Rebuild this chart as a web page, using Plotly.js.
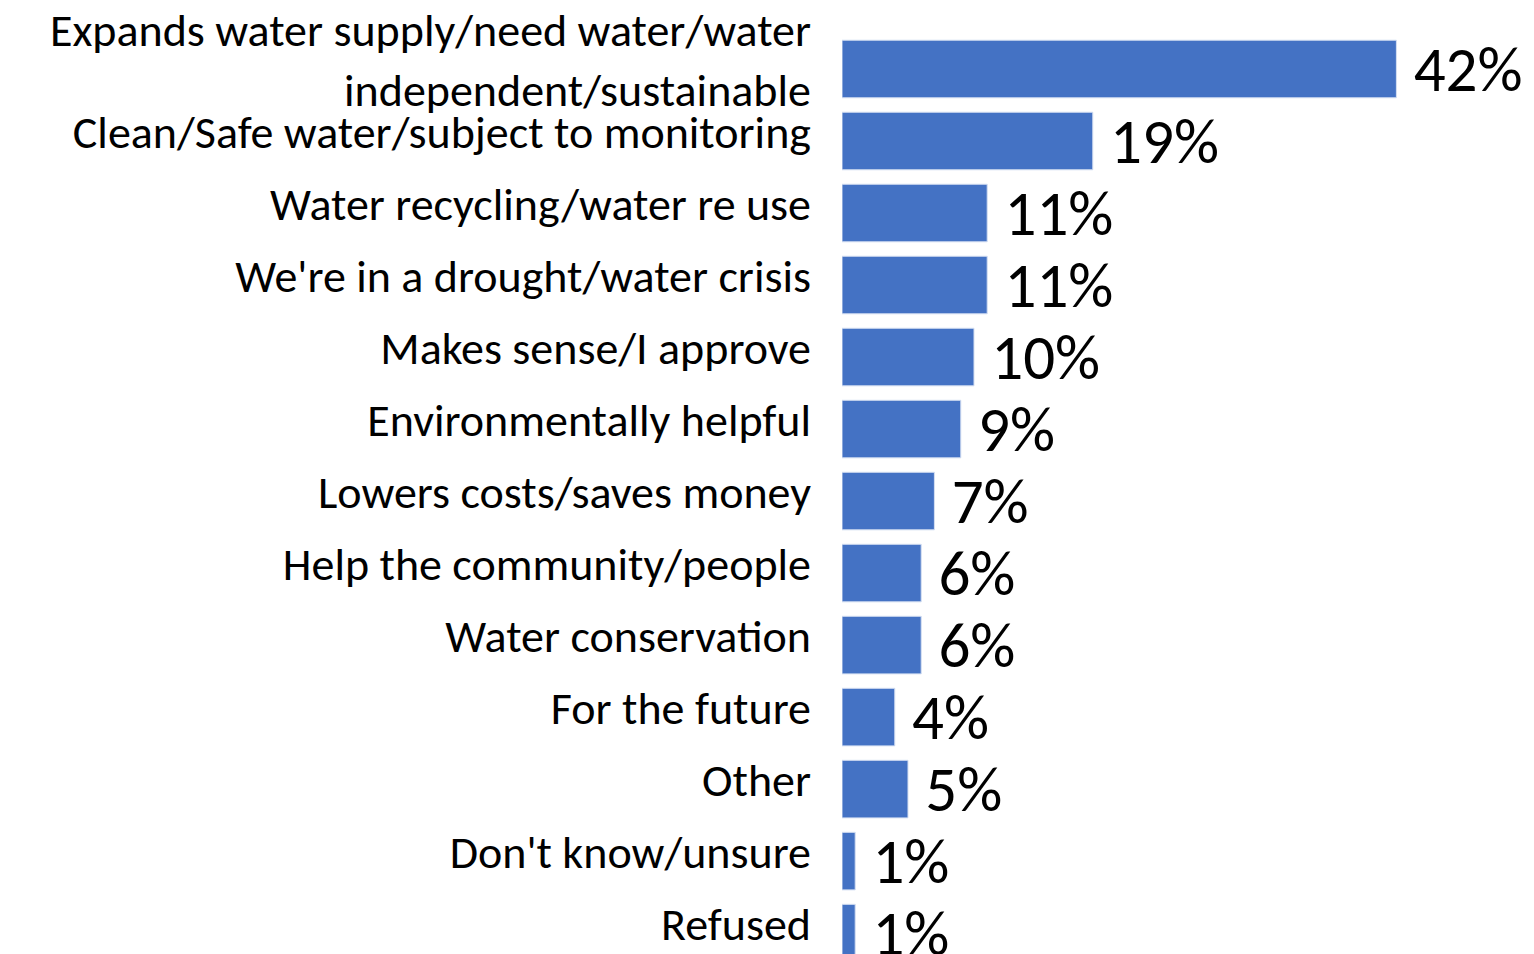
<!DOCTYPE html>
<html>
<head>
<meta charset="utf-8">
<script src="https://cdn.plot.ly/plotly-3.0.1.min.js"></script>
<style>
html,body{margin:0;padding:0;background:#fff;}
#chart{width:1534px;height:954px;}
</style>
</head>
<body>
<div id="chart"></div>
<script>
const categories = [
  "Expands water supply/need water/water<br>independent/sustainable",
  "Clean/Safe water/subject to monitoring",
  "Water recycling/water re use",
  "We're in a drought/water crisis",
  "Makes sense/I approve",
  "Environmentally helpful",
  "Lowers costs/saves money",
  "Help the community/people",
  "Water conservation",
  "For the future",
  "Other",
  "Don't know/unsure",
  "Refused"
];
const values = [42, 19, 11, 11, 10, 9, 7, 6, 6, 4, 5, 1, 1];
const valueLabels = ["42%", "19%", "11%", "11%", "10%", "9%", "7%", "6%", "6%", "4%", "5%", "1%", "1%"];

const FONT = "Carlito, Calibri, Lato, sans-serif";

Plotly.newPlot("chart", [{
  type: "bar",
  orientation: "h",
  y: categories,
  x: values,
  text: valueLabels,
  texttemplate: " %{text}",
  textposition: "outside",
  cliponaxis: false,
  constraintext: "none",
  textfont: {family: FONT, size: 63, color: "#000"},
  marker: {color: "#4472C4", line: {color: "#D6E0F2", width: 1}},
  hoverinfo: "none"
}], {
  width: 1534,
  height: 954,
  margin: {l: 842, r: 32, t: 33, b: 0},
  paper_bgcolor: "#fff",
  plot_bgcolor: "#fff",
  bargap: 0.2,
  showlegend: false,
  xaxis: {range: [0, 50], visible: false, fixedrange: true},
  yaxis: {
    type: "category",
    categoryorder: "array",
    categoryarray: categories,
    range: [12.29, -0.5],
    showgrid: false,
    zeroline: false,
    showline: false,
    ticks: "",
    ticklabelstandoff: 30,
    ticklabelshift: 9,
    tickfont: {family: FONT, size: 46, color: "#000"},
    automargin: false,
    fixedrange: true
  },
  font: {family: FONT}
}, {displayModeBar: false, staticPlot: true});
</script>
</body>
</html>
